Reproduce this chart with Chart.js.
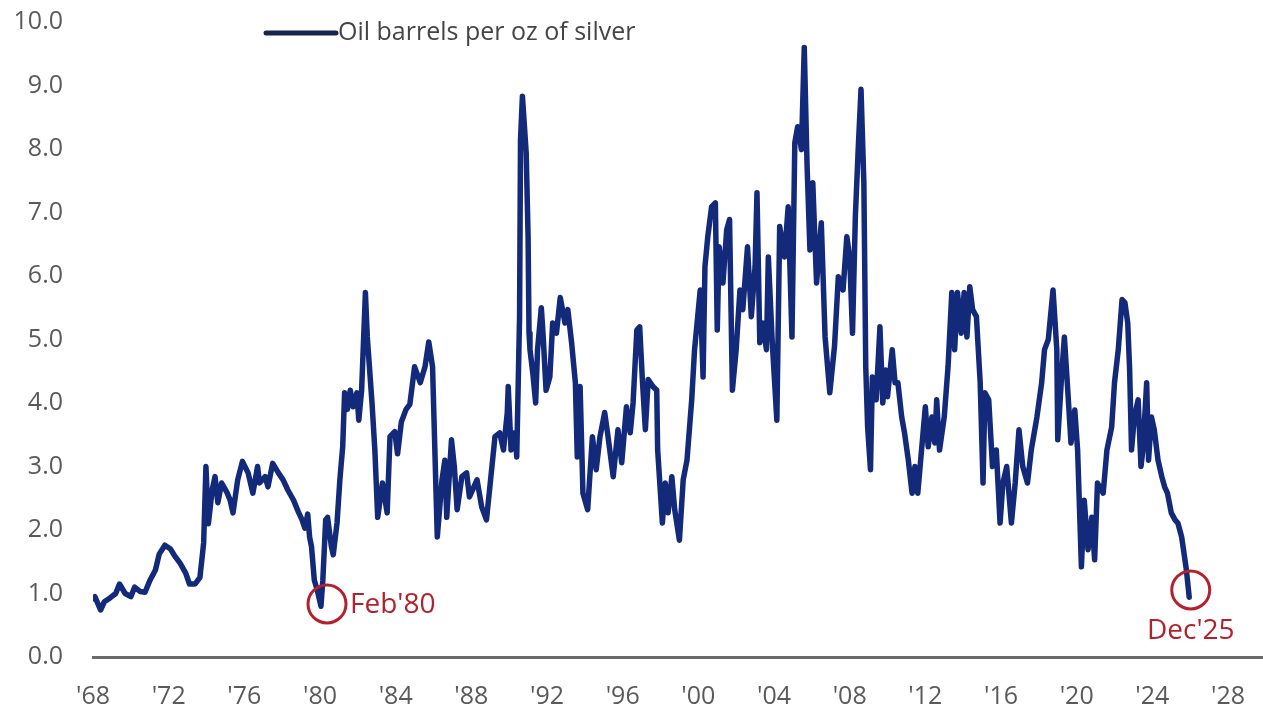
<!DOCTYPE html>
<html>
<head>
<meta charset="utf-8">
<title>Oil barrels per oz of silver</title>
<script src="https://cdn.jsdelivr.net/npm/chart.js@4.4.1/dist/chart.umd.min.js"></script>
<style>
    html, body { margin: 0; padding: 0; background: #fff; }
    #chart { display: block; }
</style>
</head>
<body>
<canvas id="chart" width="1263" height="711"></canvas>
<script>
// Decimal year and ratio
const years = [
    1968.0, 1968.1, 1968.4, 1968.6, 1968.9, 1969.2, 1969.4, 1969.7, 1970.0, 1970.2,
    1970.5, 1970.75, 1971.0, 1971.3, 1971.5, 1971.8, 1972.1, 1972.3, 1972.6, 1972.9,
    1973.1, 1973.4, 1973.65, 1973.75, 1973.85, 1973.97, 1974.1, 1974.3, 1974.45, 1974.6,
    1974.8, 1975.1, 1975.25, 1975.4, 1975.65, 1975.9, 1976.2, 1976.45, 1976.7, 1976.8,
    1977.1, 1977.25, 1977.5, 1977.8, 1978.05, 1978.3, 1978.6, 1978.85, 1979.05, 1979.2,
    1979.35, 1979.45, 1979.55, 1979.7, 1979.85, 1980.05, 1980.15, 1980.3, 1980.4, 1980.6,
    1980.7, 1980.9, 1981.05, 1981.2, 1981.3, 1981.45, 1981.6, 1981.75, 1981.95, 1982.05,
    1982.2, 1982.4, 1982.5, 1982.75, 1982.9, 1983.05, 1983.3, 1983.55, 1983.7, 1983.95,
    1984.1, 1984.3, 1984.55, 1984.75, 1985.0, 1985.3, 1985.55, 1985.75, 1985.95, 1986.2,
    1986.45, 1986.6, 1986.7, 1986.95, 1987.1, 1987.25, 1987.5, 1987.75, 1987.9, 1988.3,
    1988.55, 1988.8, 1989.0, 1989.25, 1989.5, 1989.7, 1989.9, 1989.95, 1990.1, 1990.3,
    1990.4, 1990.55, 1990.6, 1990.7, 1990.9, 1991.0, 1991.05, 1991.1, 1991.25, 1991.4,
    1991.5, 1991.7, 1991.8, 1991.95, 1992.15, 1992.3, 1992.5, 1992.7, 1992.95, 1993.1,
    1993.3, 1993.5, 1993.6, 1993.75, 1993.9, 1994.15, 1994.4, 1994.6, 1994.8, 1995.05,
    1995.2, 1995.5, 1995.75, 1995.95, 1996.2, 1996.4, 1996.55, 1996.75, 1996.9, 1997.05,
    1997.2, 1997.35, 1997.6, 1997.8, 1997.85, 1998.1, 1998.25, 1998.4, 1998.6, 1998.75,
    1999.0, 1999.2, 1999.4, 1999.65, 1999.8, 2000.1, 2000.25, 2000.35, 2000.5, 2000.7,
    2000.9, 2001.0, 2001.1, 2001.3, 2001.5, 2001.65, 2001.8, 2002.0, 2002.2, 2002.35,
    2002.6, 2002.8, 2003.0, 2003.1, 2003.25, 2003.4, 2003.6, 2003.7, 2003.9, 2004.15,
    2004.3, 2004.55, 2004.75, 2004.95, 2005.1, 2005.25, 2005.45, 2005.6, 2005.75, 2005.9,
    2006.05, 2006.25, 2006.5, 2006.7, 2006.95, 2007.2, 2007.4, 2007.65, 2007.85, 2008.0,
    2008.15, 2008.3, 2008.45, 2008.6, 2008.75, 2008.85, 2008.95, 2009.1, 2009.2, 2009.4,
    2009.6, 2009.75, 2009.9, 2010.0, 2010.25, 2010.4, 2010.55, 2010.75, 2010.9, 2011.1,
    2011.3, 2011.45, 2011.6, 2011.8, 2012.0, 2012.15, 2012.35, 2012.5, 2012.6, 2012.75,
    2013.0, 2013.2, 2013.4, 2013.55, 2013.7, 2013.9, 2014.05, 2014.2, 2014.35, 2014.5,
    2014.7, 2014.9, 2015.05, 2015.15, 2015.35, 2015.55, 2015.75, 2015.95, 2016.1, 2016.3,
    2016.55, 2016.75, 2016.95, 2017.15, 2017.4, 2017.6, 2017.9, 2018.15, 2018.3, 2018.5,
    2018.75, 2018.95, 2019.0, 2019.2, 2019.35, 2019.55, 2019.7, 2019.9, 2020.05, 2020.25,
    2020.4, 2020.6, 2020.8, 2020.95, 2021.1, 2021.4, 2021.6, 2021.85, 2022.0, 2022.2,
    2022.4, 2022.55, 2022.7, 2022.8, 2022.9, 2023.05, 2023.25, 2023.4, 2023.5, 2023.7,
    2023.8, 2023.95, 2024.1, 2024.3, 2024.5, 2024.65, 2024.8, 2025.0, 2025.2, 2025.35,
    2025.55, 2025.7, 2025.8, 2025.95
];
const ratios = [
    0.92, 0.95, 0.74, 0.87, 0.93, 1.00, 1.15, 1.00, 0.95, 1.10,
    1.03, 1.02, 1.20, 1.37, 1.62, 1.76, 1.70, 1.60, 1.48, 1.32,
    1.15, 1.15, 1.25, 1.52, 1.80, 3.00, 2.10, 2.63, 2.84, 2.43,
    2.74, 2.58, 2.47, 2.27, 2.79, 3.08, 2.90, 2.58, 3.00, 2.74,
    2.84, 2.68, 3.05, 2.90, 2.79, 2.63, 2.47, 2.29, 2.16, 2.03,
    2.25, 1.89, 1.74, 1.21, 1.06, 0.80, 1.21, 2.16, 2.20, 1.74,
    1.61, 2.11, 2.79, 3.31, 4.16, 3.90, 4.20, 3.94, 4.16, 3.73,
    4.20, 5.74, 5.04, 4.00, 3.26, 2.20, 2.74, 2.27, 3.47, 3.55,
    3.20, 3.70, 3.90, 3.98, 4.57, 4.32, 4.57, 4.96, 4.57, 1.89,
    2.79, 3.10, 2.20, 3.42, 3.00, 2.32, 2.84, 2.90, 2.52, 2.79,
    2.36, 2.16, 2.74, 3.47, 3.53, 3.26, 3.85, 4.26, 3.26, 3.53,
    3.15, 5.36, 8.15, 8.83, 7.94, 6.62, 5.10, 4.84, 4.47, 4.00,
    4.84, 5.50, 5.04, 4.20, 4.41, 5.26, 5.10, 5.66, 5.26, 5.47,
    4.95, 4.32, 3.15, 4.26, 2.58, 2.32, 3.47, 2.95, 3.47, 3.85,
    3.53, 2.84, 3.58, 3.06, 3.94, 3.53, 4.00, 5.15, 5.20, 4.32,
    3.58, 4.37, 4.26, 4.20, 3.26, 2.11, 2.74, 2.27, 2.84, 2.32,
    1.84, 2.79, 3.10, 4.05, 4.84, 5.78, 4.41, 6.15, 6.62, 7.09,
    7.15, 5.15, 6.46, 5.89, 6.73, 6.89, 4.20, 4.84, 5.78, 5.47,
    6.46, 5.36, 6.15, 7.31, 4.95, 5.26, 4.84, 6.30, 5.00, 3.73,
    6.78, 6.30, 7.09, 5.04, 8.10, 8.35, 7.99, 9.60, 7.72, 6.41,
    7.47, 5.89, 6.84, 5.04, 4.16, 4.90, 5.99, 5.78, 6.62, 6.30,
    5.10, 6.93, 7.99, 8.94, 7.47, 4.57, 3.62, 2.95, 4.41, 4.05,
    5.20, 4.00, 4.52, 4.10, 4.84, 4.32, 4.32, 3.78, 3.53, 3.10,
    2.58, 3.00, 2.58, 3.26, 3.94, 3.31, 3.78, 3.37, 4.05, 3.26,
    3.78, 4.57, 5.74, 4.84, 5.74, 5.10, 5.74, 5.04, 5.83, 5.47,
    5.36, 4.32, 2.74, 4.16, 4.05, 3.00, 3.26, 2.11, 2.74, 3.00,
    2.11, 2.74, 3.58, 3.00, 2.74, 3.26, 3.78, 4.32, 4.84, 5.00,
    5.78, 4.84, 3.42, 4.41, 5.04, 4.10, 3.37, 3.89, 3.26, 1.42,
    2.47, 1.69, 2.20, 1.53, 2.74, 2.58, 3.26, 3.62, 4.32, 4.84,
    5.63, 5.58, 5.26, 4.52, 3.26, 3.78, 4.05, 3.00, 3.26, 4.32,
    3.10, 3.78, 3.58, 3.10, 2.84, 2.68, 2.58, 2.27, 2.16, 2.11,
    1.89, 1.58, 1.37, 0.94
];

const xTickYears = [1968, 1972, 1976, 1980, 1984, 1988, 1992, 1996, 2000, 2004, 2008, 2012, 2016, 2020, 2024, 2028];
const yTickValues = [0, 1, 2, 3, 4, 5, 6, 7, 8, 9, 10];

// Circled points with their labels
const calloutYears = [1980.37, 2026.03];
const calloutValues = [0.835, 1.056];
const calloutLabels = ["Feb'80", "Dec'25"];

const seriesName = 'Oil barrels per oz of silver';
const NAVY = '#13297a';
const RED = '#b3222c';
const FONT = "'Open Sans', 'Noto Sans', sans-serif";

const points = years.map((y, i) => ({ x: y, y: ratios[i] }));

const legendAndCallouts = {
    id: 'legendAndCallouts',
    afterDatasetsDraw(chart) {
        const ctx = chart.ctx;
        const xs = chart.scales.x;
        const ys = chart.scales.y;
        ctx.save();

        // legend line + text
        ctx.strokeStyle = '#16254f';
        ctx.lineWidth = 5;
        ctx.lineCap = 'round';
        ctx.beginPath();
        ctx.moveTo(266, 33);
        ctx.lineTo(336, 33);
        ctx.stroke();
        ctx.fillStyle = '#454545';
        ctx.font = '25px ' + FONT;
        ctx.textAlign = 'left';
        ctx.textBaseline = 'middle';
        ctx.fillText(seriesName, 338, 33);

        // red circles
        ctx.strokeStyle = RED;
        ctx.fillStyle = RED;
        ctx.lineWidth = 3;
        ctx.font = '28px ' + FONT;
        calloutYears.forEach((yr, i) => {
            const cx = xs.getPixelForValue(yr);
            const cy = ys.getPixelForValue(calloutValues[i]);
            ctx.beginPath();
            ctx.arc(cx, cy, 19, 0, Math.PI * 2);
            ctx.stroke();
            if (i === 0) {
                ctx.textAlign = 'left';
                ctx.fillText(calloutLabels[i], cx + 23, cy + 1);
            } else {
                ctx.textAlign = 'center';
                ctx.fillText(calloutLabels[i], cx, cy + 41);
            }
        });
        ctx.restore();
    }
};

new Chart(document.getElementById('chart'), {
    type: 'line',
    data: {
        datasets: [{
            label: seriesName,
            data: points,
            borderColor: NAVY,
            borderWidth: 5.5,
            pointRadius: 0,
            tension: 0,
            borderJoinStyle: 'round',
            borderCapStyle: 'round'
        }]
    },
    options: {
        responsive: false,
        animation: false,
        layout: { padding: { top: 22, right: 0, bottom: 0, left: 0 } },
        plugins: {
            legend: { display: false },
            tooltip: { enabled: false }
        },
        scales: {
            x: {
                type: 'linear',
                min: 1968,
                max: 2029.85,
                afterBuildTicks: (scale) => {
                    scale.ticks = xTickYears.map(v => ({ value: v }));
                },
                afterFit: (scale) => {
                    scale.height = 54;
                    scale.paddingLeft = 0;
                    scale.paddingRight = 0;
                },
                ticks: {
                    autoSkip: false,
                    maxRotation: 0,
                    padding: 25,
                    color: '#5a5a5a',
                    font: { family: FONT, size: 25 },
                    callback: (v) => "'" + String(v).slice(2)
                },
                grid: { display: false, drawTicks: false },
                border: { display: true, color: '#6b6b6b', width: 3 }
            },
            y: {
                min: 0,
                max: 10,
                afterBuildTicks: (scale) => {
                    scale.ticks = yTickValues.map(v => ({ value: v }));
                },
                afterFit: (scale) => {
                    scale.width = 93;
                    // keep the tick padding from pushing the plot area down
                    scale.paddingTop = 0;
                    scale.paddingBottom = 0;
                },
                ticks: {
                    padding: 30,
                    color: '#5a5a5a',
                    font: { family: FONT, size: 25 },
                    callback: (v) => v.toFixed(1)
                },
                grid: { display: false, drawTicks: false },
                border: { display: false }
            }
        }
    },
    plugins: [legendAndCallouts]
});
</script>
</body>
</html>
